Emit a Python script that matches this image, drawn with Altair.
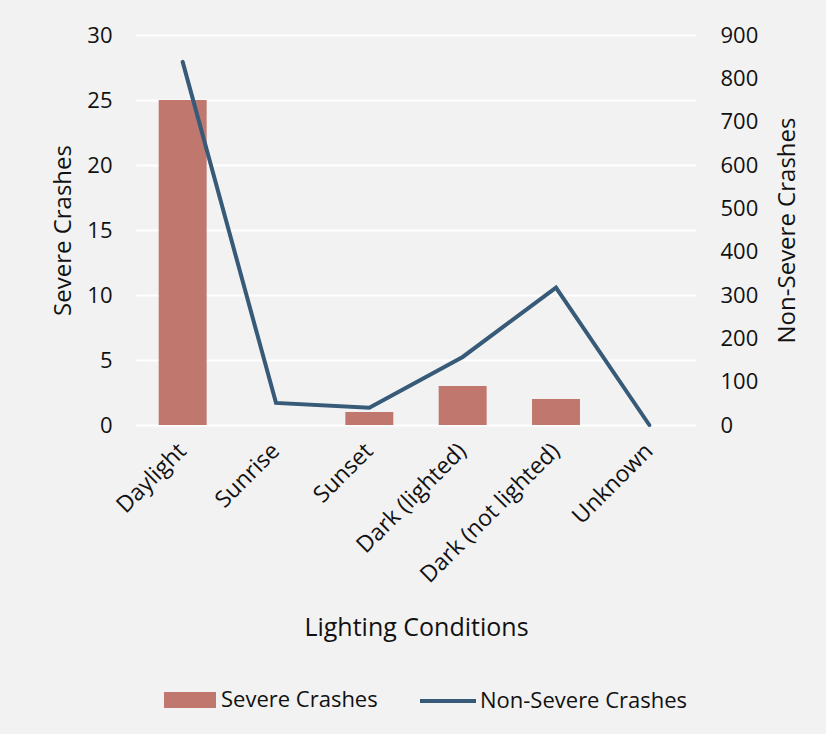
import altair as alt
import pandas as pd

categories = ["Daylight", "Sunrise", "Sunset", "Dark (lighted)", "Dark (not lighted)", "Unknown"]
severe = [25, 0, 1, 3, 2, 0]
non_severe = [838, 51, 40, 157, 317, 0]

df = pd.DataFrame({
    "cat": categories,
    "severe": severe,
    "nonsevere": non_severe,
    "s_label": ["Severe Crashes"] * len(categories),
    "n_label": ["Non-Severe Crashes"] * len(categories),
})

FONT = "Open Sans"
TXT = "#111111"

x = alt.X(
    "cat:N",
    sort=categories,
    scale=alt.Scale(paddingInner=0.486, paddingOuter=0.243),
    axis=alt.Axis(
        title="Lighting Conditions",
        labelAngle=-45,
        labelAlign="right",
        labelBaseline="middle",
        labelPadding=22,
        labelFontSize=23,
        labelLimit=400,
        titleFontSize=25,
        titleFontWeight="normal",
        titleY=202,
        titleBaseline="middle",
        domain=False,
        ticks=False,
        grid=False,
    ),
)

bars = alt.Chart(df).mark_bar(color="#c0786e").encode(
    x=x,
    y=alt.Y(
        "severe:Q",
        scale=alt.Scale(domain=[0, 30]),
        axis=alt.Axis(
            title="Severe Crashes",
            values=[0, 5, 10, 15, 20, 25, 30],
            labelFontSize=22,
            labelPadding=24,
            titleFontSize=24,
            titleFontWeight="normal",
            titleAngle=270,
            titleX=-73,
            titleY=195,
            titleAlign="center",
            titleBaseline="middle",
            domain=False,
            ticks=False,
            grid=True,
            gridColor="#ffffff",
            gridWidth=2,
        ),
    ),
    color=alt.Color(
        "s_label:N",
        scale=alt.Scale(domain=["Severe Crashes"], range=["#c0786e"]),
        legend=alt.Legend(
            title=None,
            orient="none",
            legendX=28,
            legendY=639,
            padding=0,
            symbolType="M-1,-0.31H1V0.31H-1Z",
            symbolSize=2704,
            symbolStrokeWidth=0,
            symbolOpacity=1,
            labelFontSize=22,
            labelOffset=5,
            labelLimit=400,
        ),
    ),
)

line = alt.Chart(df).mark_line(strokeWidth=4, strokeCap="round", strokeJoin="miter").encode(
    x=x,
    y=alt.Y(
        "nonsevere:Q",
        scale=alt.Scale(domain=[0, 900]),
        axis=alt.Axis(
            title="Non-Severe Crashes",
            orient="right",
            values=[0, 100, 200, 300, 400, 500, 600, 700, 800, 900],
            labelFontSize=22,
            labelPadding=24,
            titleFontSize=24,
            titleFontWeight="normal",
            titleAngle=270,
            titleX=91,
            titleY=195,
            titleAlign="center",
            titleBaseline="middle",
            domain=False,
            ticks=False,
            grid=False,
        ),
    ),
    stroke=alt.Stroke(
        "n_label:N",
        scale=alt.Scale(domain=["Non-Severe Crashes"], range=["#375a78"]),
        legend=alt.Legend(
            title=None,
            orient="none",
            legendX=282,
            legendY=636,
            padding=0,
            symbolType="stroke",
            symbolSize=3136,
            symbolStrokeWidth=4,
            labelFontSize=22,
            labelOffset=2,
            labelLimit=400,
        ),
    ),
)

chart = (
    alt.layer(bars, line)
    .resolve_scale(y="independent", color="independent", stroke="independent")
    .properties(
        width=560,
        height=390,
        background="#f2f2f2",
        padding={"left": 136, "top": 35, "right": 130, "bottom": 309},
        autosize=alt.AutoSizeParams(type="none"),
    )
    .configure_view(stroke=None)
    .configure_axis(labelFont=FONT, titleFont=FONT, labelColor=TXT, titleColor=TXT)
    .configure_legend(labelFont=FONT, labelColor=TXT)
)

chart.save("out.html", embed_options={"renderer": "svg", "actions": False})
